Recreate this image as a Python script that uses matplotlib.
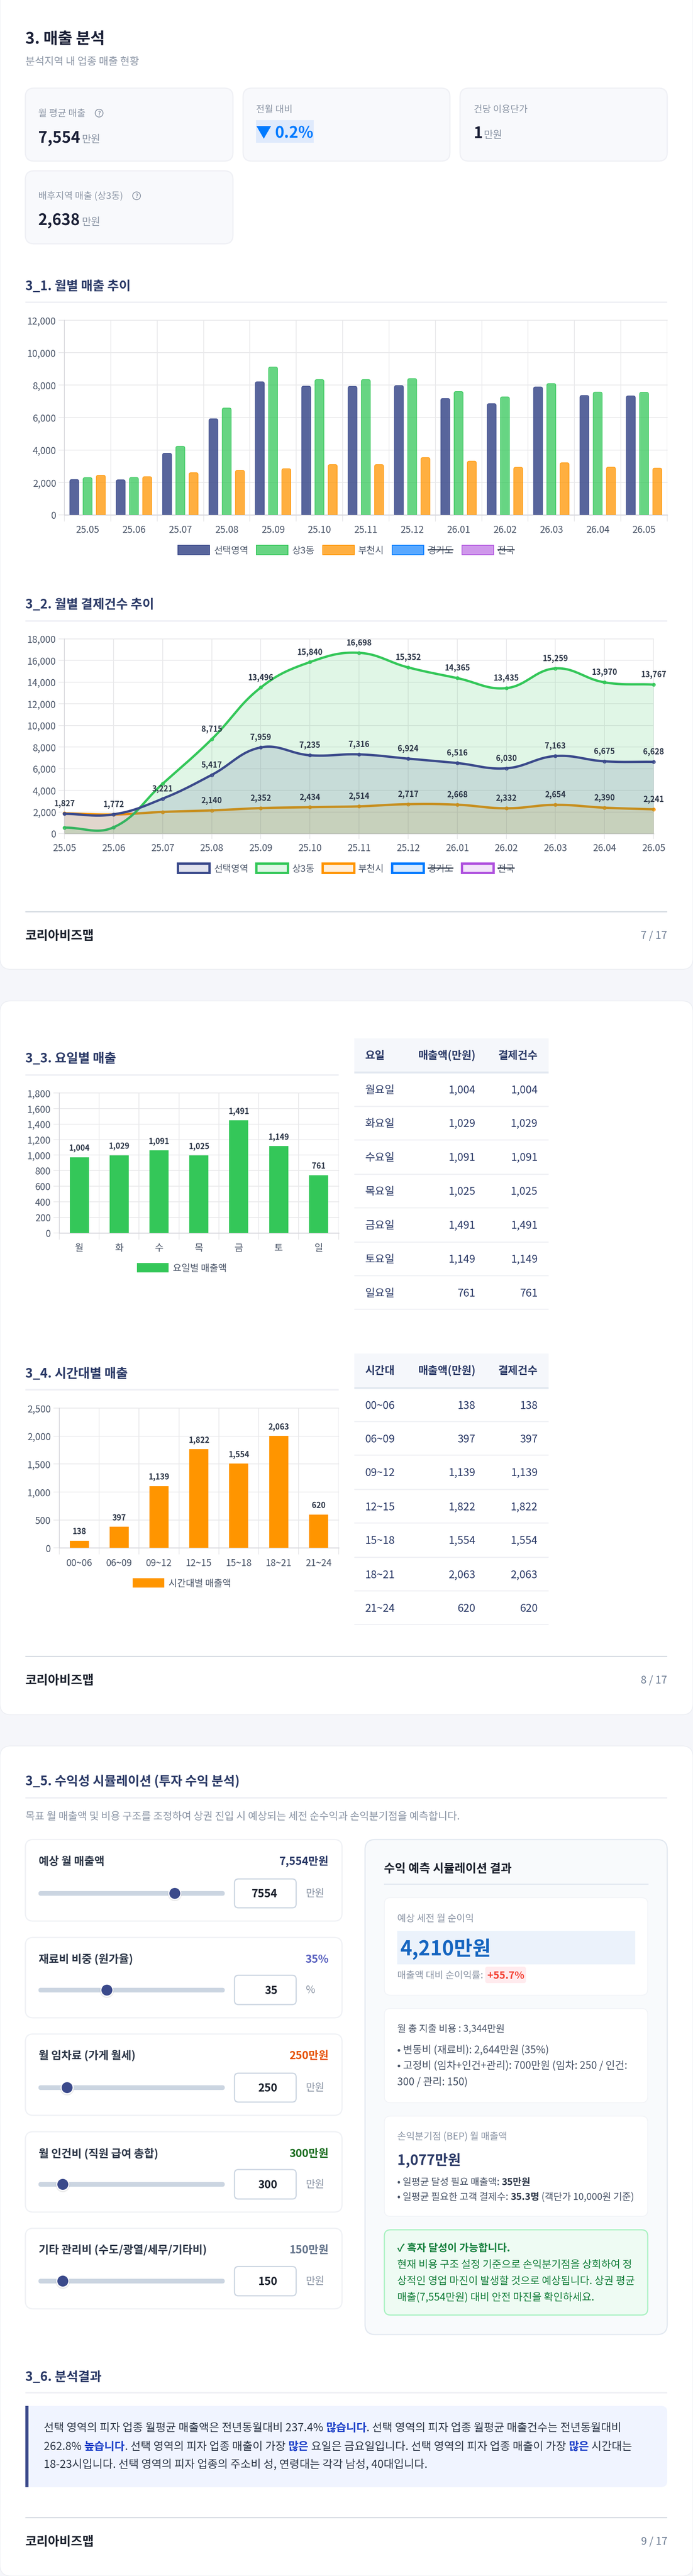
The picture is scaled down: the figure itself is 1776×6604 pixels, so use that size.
import numpy as np
import matplotlib
matplotlib.use('Agg')
import matplotlib.pyplot as plt
from matplotlib.patches import FancyBboxPatch, Rectangle, Circle, PathPatch
from matplotlib.path import Path
from matplotlib.colors import to_rgba

plt.rcParams['font.family'] = ['Noto Sans CJK KR', 'DejaVu Sans']

months = ['25.05', '25.06', '25.07', '25.08', '25.09', '25.10', '25.11', '25.12', '26.01', '26.02', '26.03', '26.04', '26.05']
legend_names = ['선택영역', '상3동', '부천시', '경기도', '전국']

# 3_1 monthly sales
sales_area = [2180, 2165, 3804, 5926, 8209, 7939, 7926, 7975, 7178, 6859, 7890, 7362, 7337]
sales_dong = [2300, 2307, 4233, 6589, 9117, 8344, 8344, 8405, 7607, 7276, 8098, 7571, 7558]
sales_city = [2445, 2356, 2601, 2748, 2847, 3104, 3104, 3534, 3313, 2933, 3215, 2945, 2883]

# 3_2 monthly payments
count_area = [1827, 1772, 3221, 5417, 7959, 7235, 7316, 6924, 6516, 6030, 7163, 6675, 6628]
count_dong = [552, 575, 4598, 8715, 13496, 15840, 16698, 15352, 14365, 13435, 15259, 13970, 13767]
count_city = [1870, 1760, 2000, 2140, 2352, 2434, 2514, 2717, 2668, 2332, 2654, 2390, 2241]

# 3_3 weekday
days = ['월', '화', '수', '목', '금', '토', '일']
day_rows = ['월요일', '화요일', '수요일', '목요일', '금요일', '토요일', '일요일']
day_labels = [1004, 1029, 1091, 1025, 1491, 1149, 761]
day_bars = [974, 999, 1060, 996, 1448, 1118, 740]

# 3_4 time of day
hours = ['00~06', '06~09', '09~12', '12~15', '15~18', '18~21', '21~24']
hour_labels = [138, 397, 1139, 1822, 1554, 2063, 620]
hour_bars = [129, 378, 1108, 1770, 1508, 2002, 596]

NAVY = '#3b4a8b'
GREEN = '#34c759'
ORANGE = '#ff9500'
BLUE = '#007aff'
PURPLE = '#af52de'
bar_faces = [to_rgba(NAVY, 0.85), to_rgba(GREEN, 0.75), to_rgba(ORANGE, 0.75), to_rgba(BLUE, 0.65), to_rgba(PURPLE, 0.6)]
line_colors = [NAVY, GREEN, ORANGE, BLUE, PURPLE]
line_faces = ['#e1e3ee', '#e0f7e6', '#ffefdb', '#d9ebff', '#f3e5fa']
TITLE = '#2b3a67'
GRAY = '#8b95a5'
AXIS = '#4a5568'
GRID = '#e9e9eb'

W, H = 1776, 6604
fig = plt.figure(figsize=(W / 100, H / 100), dpi=100, facecolor='#f5f6fa')
bg = fig.add_axes([0, 0, 1, 1], zorder=0)
bg.set_xlim(0, W)
bg.set_ylim(H, 0)
bg.axis('off')
renderer = fig.canvas.get_renderer()


def box(x0, y0, x1, y1, r, face, edge='none', lw=2, z=1):
    p = FancyBboxPatch((x0, y0), x1 - x0, y1 - y0, boxstyle=f'round,pad=0,rounding_size={r}',
                       fc=face, ec=edge, lw=lw * 0.72, zorder=z)
    bg.add_patch(p)


def rule(x0, x1, y, color='#eff0f5', h=4, z=2):
    bg.add_patch(Rectangle((x0, y - h / 2), x1 - x0, h, fc=color, ec='none', zorder=z))


def txt(x, y, s, px, color='#1a202c', weight='normal', ha='left', z=5):
    # y is the visual middle of the glyphs
    return bg.text(x, y + 0.37 * px, s, fontsize=px * 0.72, color=color, fontweight=weight,
                   ha=ha, va='baseline', zorder=z)


def text_width(s, px, weight):
    a = bg.text(0, 0, '|' + s + '|', fontsize=px * 0.72, fontweight=weight)
    b = bg.text(0, 0, '||', fontsize=px * 0.72, fontweight=weight)
    w = a.get_window_extent(renderer).width - b.get_window_extent(renderer).width
    a.remove()
    b.remove()
    return w


def runs(x, y, parts, px):
    for s, color, weight in parts:
        txt(x, y, s, px, color, weight)
        x += text_width(s, px, weight)


def section(y_title, y_rule, s, x1=1710):
    txt(65, y_title, s, 32.6, TITLE, 'bold')
    rule(65, x1, y_rule)


def footer(y_rule, page):
    rule(65, 1710, y_rule, '#d5dae2', 3)
    txt(65, y_rule + 59, '코리아비즈맵', 32, '#1a202c', 'bold')
    txt(1710, y_rule + 59, page, 27, '#718096', ha='right')


def legend(x_boxes, x_texts, y, h, names, faces, edges, lw, struck=()):
    for i, name in enumerate(names):
        bg.add_patch(Rectangle((x_boxes[i], y - h / 2), 81, h, fc=faces[i], ec=edges[i], lw=lw * 0.72, zorder=3))
        txt(x_texts[i], y, name, 24, AXIS)
        if i in struck:
            w = text_width(name, 24, 'normal')
            rule(x_texts[i], x_texts[i] + w, y, '#2d3748', 3, 6)


def help_icon(x, y):
    bg.add_patch(Circle((x, y), 10, fc='none', ec='#8b95a5', lw=1.5, zorder=5))
    txt(x, y, '?', 15, '#8b95a5', 'bold', ha='center')


def chart_axes(x0, y0, x1, y1, ylim, yticks, tick_px):
    ax = fig.add_axes([x0 / W, 1 - y1 / H, (x1 - x0) / W, (y1 - y0) / H], zorder=2)
    ax.patch.set_alpha(0)
    for s in ax.spines.values():
        s.set_visible(False)
    ax.set_ylim(*ylim)
    ax.set_yticks(yticks)
    ax.set_yticklabels([f'{v:,}' for v in yticks])
    ax.tick_params(axis='y', length=11, width=1.44, color=GRID, labelsize=17.3, labelcolor=AXIS, pad=tick_px)
    ax.grid(axis='y', color=GRID, lw=1.44, zorder=0)
    ax.set_axisbelow(True)
    ax.axhline(0, color='#d9d9de', lw=1.8, zorder=1, clip_on=False)
    for l in ax.get_ygridlines():
        l.set_clip_on(False)
    return ax


def category_x(ax, labels, pad):
    n = len(labels)
    ax.set_xlim(-0.5, n - 0.5)
    ax.set_xticks(range(n))
    ax.set_xticklabels(labels)
    ax.set_xticks(np.arange(n + 1) - 0.5, minor=True)
    ax.tick_params(axis='x', which='major', length=0, labelsize=17.3, labelcolor=AXIS, pad=pad)
    ax.tick_params(axis='x', which='minor', length=12, width=1.44, color=GRID)
    ax.grid(axis='x', which='minor', color=GRID, lw=1.44, zorder=0)
    ax.axvline(-0.5, color='#d9d9de', lw=1.44, zorder=1, clip_on=False)
    for l in ax.xaxis.get_minorticklines():
        l.set_clip_on(False)


def round_bar(ax, x, w, h, rx, ry, face, edge):
    x0, x1 = x - w / 2, x + w / 2
    verts = [(x0, 0), (x0, h - ry), (x0, h), (x0 + rx, h), (x1 - rx, h), (x1, h), (x1, h - ry), (x1, 0), (x0, 0)]
    codes = [Path.MOVETO, Path.LINETO, Path.CURVE3, Path.CURVE3, Path.LINETO, Path.CURVE3, Path.CURVE3,
             Path.LINETO, Path.CLOSEPOLY]
    ax.add_patch(PathPatch(Path(verts, codes), fc=face, ec=edge, lw=1.0, zorder=3))


def spline(x, y, sx, sy, tension=0.4, n=24):
    # same bezier smoothing a tension 0.4 line chart uses, worked out in pixel space
    px = np.array(x, float) * sx
    py = np.array(y, float) * sy
    cp_prev = np.zeros((len(px), 2))
    cp_next = np.zeros((len(px), 2))
    for i in range(len(px)):
        a = max(i - 1, 0)
        b = min(i + 1, len(px) - 1)
        d01 = np.hypot(px[i] - px[a], py[i] - py[a])
        d12 = np.hypot(px[b] - px[i], py[b] - py[i])
        s01 = d01 / (d01 + d12)
        s12 = d12 / (d01 + d12)
        dx, dy = px[b] - px[a], py[b] - py[a]
        cp_prev[i] = px[i] - tension * s01 * dx, py[i] - tension * s01 * dy
        cp_next[i] = px[i] + tension * s12 * dx, py[i] + tension * s12 * dy
    xs, ys = [], []
    t = np.linspace(0, 1, n)
    for i in range(len(px) - 1):
        xs.append((1 - t) ** 3 * px[i] + 3 * (1 - t) ** 2 * t * cp_next[i, 0] + 3 * (1 - t) * t ** 2 * cp_prev[i + 1, 0] + t ** 3 * px[i + 1])
        ys.append((1 - t) ** 3 * py[i] + 3 * (1 - t) ** 2 * t * cp_next[i, 1] + 3 * (1 - t) * t ** 2 * cp_prev[i + 1, 1] + t ** 3 * py[i + 1])
    return np.concatenate(xs) / sx, np.concatenate(ys) / sy


def data_table(y_head, y_line, y_rows, y_lines, head, rows, col2, col3):
    bg.add_patch(Rectangle((908, y_head), 497.5, y_line - y_head, fc='#f5f7fb', ec='none', zorder=1))
    rule(908, 1405.5, y_line + 2, '#e2e8f0', 5)
    ymid = (y_head + y_line) / 2
    for s, x, ha in zip(head, [935.5, 1218.6, 1378], ['left', 'right', 'right']):
        txt(x, ymid, s, 27.6, TITLE, 'bold', ha=ha)
    for i, r in enumerate(rows):
        txt(935.5, y_rows[i], r, 27.6, TITLE)
        txt(1218.6, y_rows[i], f'{col2[i]:,}', 27.6, TITLE, ha='right')
        txt(1378, y_rows[i], f'{col3[i]:,}', 27.6, TITLE, ha='right')
        rule(908, 1405.5, y_lines[i], '#f0f1f5', 3)


# page cards
box(0, -40, W, 2485, 28, 'white', '#eceef3')
box(0, 2566, W, 4396, 28, 'white', '#eceef3')
box(0, 4476, W, 6604, 28, 'white', '#eceef3')

# header
txt(65, 97, '3. 매출 분석', 40.4, '#1a1f36', 'bold')
txt(65, 156, '분석지역 내 업종 매출 현황', 26.5, GRAY)
for x0, x1, y0, y1 in [(65, 597, 226, 413), (623, 1153, 226, 413), (1179, 1710, 226, 413), (65, 597, 438, 625)]:
    box(x0, y0, x1, y1, 22, '#f8f9fc', '#eff0f5', 3)
txt(98, 289, '월 평균 매출', 24, GRAY)
help_icon(254, 290)
txt(98, 350, '7,554', 40, '#1a1f36', 'bold')
txt(210, 355, '만원', 26, GRAY)
txt(656, 279, '전월 대비', 24, GRAY)
bg.add_patch(Rectangle((656, 308), 148, 58, fc='#dfeafc', ec='none', zorder=2))
txt(656, 339, '▼', 40, BLUE, 'bold')
txt(704, 339, '0.2%', 40, BLUE, 'bold')
txt(1214, 279, '건당 이용단가', 24, GRAY)
txt(1214, 339, '1', 40, '#1a1f36', 'bold')
txt(1240, 344, '만원', 26, GRAY)
txt(98, 501, '배후지역 매출 (상3동)', 24, GRAY)
help_icon(350, 502)
txt(98, 562, '2,638', 40, '#1a1f36', 'bold')
txt(210, 567, '만원', 26, GRAY)

# 3_1
section(732, 775, '3_1. 월별 매출 추이')
ax = chart_axes(165, 821, 1710, 1320, (0, 12000), list(range(0, 12001, 2000)), 4.3)
category_x(ax, months, 18.7)
for k, vals in enumerate([sales_area, sales_dong, sales_city]):
    for i, v in enumerate(vals):
        round_bar(ax, i + (k - 1) * 0.286, 0.194, v, 0.04, 120, bar_faces[k], line_colors[k])
legend([456, 657, 827, 1005, 1184], [549, 749, 918, 1096, 1275], 1410, 24, legend_names, bar_faces, line_colors, 2, (3, 4))

# 3_2
section(1548, 1592, '3_2. 월별 결제건수 추이')
ax = chart_axes(165, 1637.5, 1675, 2137, (0, 18000), list(range(0, 18001, 2000)), 4.3)
ax.set_xlim(0, 12)
ax.set_xticks(range(13))
ax.set_xticklabels(months)
ax.tick_params(axis='x', length=10, width=1.44, color=GRID, labelsize=17.3, labelcolor=AXIS, pad=8)
ax.grid(axis='x', color=GRID, lw=1.44, zorder=0)
ax.axvline(0, color='#d9d9de', lw=1.44, zorder=1, clip_on=False)
for l in ax.get_xgridlines():
    l.set_clip_on(False)
sx, sy = 1510 / 12, 499.5 / 18000
series = [(count_city, ORANGE, 3), (count_dong, GREEN, 3), (count_area, NAVY, 0)]
for vals, col, first in series:
    xs, ys = spline(range(13), vals, sx, sy)
    ax.fill_between(xs, ys, 0, color=col, alpha=0.15, lw=0, zorder=2)
    ax.plot(xs, ys, color=col, lw=4.3, zorder=2, clip_on=False, solid_capstyle='round')
    ax.plot(range(13), vals, ls='none', marker='o', ms=5.5, mfc=to_rgba(col, 0.15), mec=col, mew=1.5,
            zorder=2, clip_on=False)
for vals, col, first in series:
    for i in range(first, 13):
        ax.annotate(f'{vals[i]:,}', (i, vals[i]), xytext=(0, 14), textcoords='offset points', ha='center',
                    va='baseline', fontsize=14.4, fontweight='bold', color='#2d3748', zorder=6, annotation_clip=False)
legend([456, 657, 827, 1005, 1184], [549, 749, 918, 1096, 1275], 2226, 24, legend_names, line_faces, line_colors, 6, (3, 4))
footer(2338, '7 / 17')

# 3_3
section(2711.5, 2756, '3_3. 요일별 매출', 867.5)
ax = chart_axes(152, 2802, 867.5, 3160.5, (0, 1800), list(range(0, 1801, 200)), 5)
category_x(ax, days, 19)
for i, v in enumerate(day_bars):
    ax.bar(i, v, width=0.48, color=GREEN, zorder=3)
    ax.annotate(f'{day_labels[i]:,}', (i, v), xytext=(0, 12), textcoords='offset points', ha='center', va='baseline',
                fontsize=14.4, fontweight='bold', color='#2d3748', zorder=6)
legend([351], [443], 3250, 24, ['요일별 매출액'], [GREEN], [GREEN], 0)
data_table(2662, 2748, [2793, 2879, 2966, 3053, 3140, 3227, 3313.5],
           [2836.5, 2922.6, 3010.6, 3096.7, 3184.7, 3270.8, 3356.9],
           ['요일', '매출액(만원)', '결제건수'], day_rows, day_labels, day_labels)

# 3_4
section(3519.5, 3563.5, '3_4. 시간대별 매출', 867.5)
ax = chart_axes(152, 3610, 867.5, 3968.5, (0, 2500), list(range(0, 2501, 500)), 5)
category_x(ax, hours, 19)
for i, v in enumerate(hour_bars):
    ax.bar(i, v, width=0.48, color=ORANGE, zorder=3)
    ax.annotate(f'{hour_labels[i]:,}', (i, v), xytext=(0, 12), textcoords='offset points', ha='center', va='baseline',
                fontsize=14.4, fontweight='bold', color='#2d3748', zorder=6)
legend([340], [431.5], 4058, 24, ['시간대별 매출액'], [ORANGE], [ORANGE], 0)
data_table(3470, 3556.5, [3602, 3688, 3774, 3862, 3948, 4036, 4121.6],
           [3644.5, 3730.6, 3818.6, 3904.7, 3992.7, 4078.9, 4165],
           ['시간대', '매출액(만원)', '결제건수'], hours, hour_labels, hour_labels)
footer(4247, '8 / 17')

# 3_5 sliders
section(4565.6, 4609, '3_5. 수익성 시뮬레이션 (투자 수익 분석)')
txt(65, 4655, '목표 월 매출액 및 비용 구조를 조정하여 상권 진입 시 예상되는 세전 순수익과 손익분기점을 예측합니다.', 26.5, GRAY)

slider_names = ['예상 월 매출액', '재료비 비중 (원가율)', '월 임차료 (가게 월세)', '월 인건비 (직원 급여 총합)', '기타 관리비 (수도/광열/세무/기타비)']
slider_text = ['7,554만원', '35%', '250만원', '300만원', '150만원']
slider_input = ['7554', '35', '250', '300', '150']
slider_unit = ['만원', '%', '만원', '만원', '만원']
slider_color = [TITLE, '#5a62c0', '#e65100', '#1b6e20', '#64748b']
slider_thumb = [448, 274, 172, 161, 161]
card_y = [(4716, 4925), (4967, 5173), (5214.5, 5423), (5465, 5671), (5712.6, 5919)]
label_y = [4771, 5021.6, 5269, 5520, 5767]
track_y = [4854, 5102, 5352, 5600, 5848]
input_y = [(4817, 4891), (5064, 5139), (5315, 5389), (5562, 5637.5), (5810.6, 5885.7)]
for i in range(5):
    box(65, card_y[i][0], 876.6, card_y[i][1], 20, 'white', '#eff1f5', 3)
    txt(98.5, label_y[i], slider_names[i], 28.3, '#2d3748', 'bold')
    txt(842.6, label_y[i], slider_text[i], 28, slider_color[i], 'bold', ha='right')
    box(98.5, track_y[i] - 6, 576, track_y[i] + 6, 6, '#cbd5e1', z=2)
    bg.add_patch(Circle((slider_thumb[i], track_y[i] + 2), 18, fc='#000000', alpha=0.08, ec='none', zorder=3))
    bg.add_patch(Circle((slider_thumb[i], track_y[i]), 17, fc='white', ec='none', zorder=3))
    bg.add_patch(Circle((slider_thumb[i], track_y[i]), 14, fc=NAVY, ec='none', zorder=4))
    box(601, input_y[i][0], 759, input_y[i][1], 10, 'white', '#cbd5e1', 3, 2)
    txt(711, track_y[i], slider_input[i], 28, '#1a202c', 'bold', ha='right')
    txt(784, track_y[i] - 2, slider_unit[i], 26, GRAY)

# result panel
box(935.5, 4716, 1710, 5985, 26, '#f8fafc', '#e2e8f0', 3)
txt(984, 4789, '수익 예측 시뮬레이션 결과', 30.3, '#1a202c', 'bold')
rule(984, 1661.5, 4831, '#e2e8f0', 3)
box(985, 4865, 1660, 5115, 16, 'white', '#f1f3f7', 2, 2)
txt(1018, 4917, '예상 세전 월 순이익', 24.5, GRAY)
bg.add_patch(Rectangle((1018, 4950), 609.5, 86, fc='#ebf2fb', ec='none', zorder=3))
txt(1026, 4994, '4,210만원', 51.5, '#1565c0', 'bold')
txt(1018, 5063, '매출액 대비 순이익률:', 24.5, GRAY)
box(1243.5, 5042, 1348, 5084, 6, '#ffebee', z=3)
txt(1296, 5063, '+55.7%', 26, '#f44336', 'bold', ha='center')

box(985, 5149, 1660, 5390.5, 16, 'white', '#f1f3f7', 2, 2)
cost_lines = ['• 변동비 (재료비): 2,644만원 (35%)', '• 고정비 (임차+인건+관리): 700만원 (임차: 250 / 인건:', '300 / 관리: 150)']
txt(1018, 5200, '월 총 지출 비용 : 3,344만원', 24.5, '#4a5568')
for y, s in zip([5254, 5294, 5336], cost_lines):
    txt(1018, y, s, 26.4, '#4a5568')

box(985, 5425, 1660, 5682, 16, 'white', '#f1f3f7', 2, 2)
txt(1018, 5476, '손익분기점 (BEP) 월 매출액', 24.5, GRAY)
txt(1018, 5536.5, '1,077만원', 36, TITLE, 'bold')
runs(1018, 5593, [('• 일평균 달성 필요 매출액: ', '#4a5568', 'normal'), ('35만원', '#2d3748', 'bold')], 24.5)
runs(1018, 5631, [('• 일평균 필요한 고객 결제수: ', '#4a5568', 'normal'), ('35.3명', '#2d3748', 'bold'),
                  (' (객단가 10,000원 기준)', '#4a5568', 'normal')], 24.5)

box(985, 5716.5, 1660, 5935, 16, '#eefbf3', '#a9f2c2', 3, 2)
txt(1018, 5762, '✓ 흑자 달성이 가능합니다.', 26.5, '#15803d', 'bold')
profit_lines = ['현재 비용 구조 설정 기준으로 손익분기점을 상회하여 정', '상적인 영업 마진이 발생할 것으로 예상됩니다. 상권 평균',
                '매출(7,554만원) 대비 안전 마진을 확인하세요.']
for y, s in zip([5804, 5846, 5888], profit_lines):
    txt(1018, y, s, 26.5, '#16803c')

# 3_6
section(6092, 6134, '3_6. 분석결과')
box(65, 6168, 1710, 6376, 16, '#f0f4ff')
bg.add_patch(Rectangle((65, 6168), 30, 208, fc='#f0f4ff', ec='none', zorder=2))
bg.add_patch(Rectangle((65, 6168), 8, 208, fc=NAVY, ec='none', zorder=3))
BODY = '#2d3748'
HI = '#1d40c8'
line_a = [('선택 영역의 피자 업종 월평균 매출액은 전년동월대비 237.4% ', BODY, 'normal'), ('많습니다', HI, 'bold'),
          ('. 선택 영역의 피자 업종 월평균 매출건수는 전년동월대비', BODY, 'normal')]
line_b = [('262.8% ', BODY, 'normal'), ('높습니다', HI, 'bold'), ('. 선택 영역의 피자 업종 매출이 가장 ', BODY, 'normal'),
          ('많은', HI, 'bold'), (' 요일은 금요일입니다. 선택 영역의 피자 업종 매출이 가장 ', BODY, 'normal'), ('많은', HI, 'bold'),
          (' 시간대는', BODY, 'normal')]
line_c = [('18-23시입니다. 선택 영역의 피자 업종의 주소비 성, 연령대는 각각 남성, 40대입니다.', BODY, 'normal')]
for y, parts in zip([6222, 6270, 6317], [line_a, line_b, line_c]):
    runs(112, y, parts, 28.4)
footer(6455, '9 / 17')

fig.savefig('out.png', dpi=100, facecolor=fig.get_facecolor())
